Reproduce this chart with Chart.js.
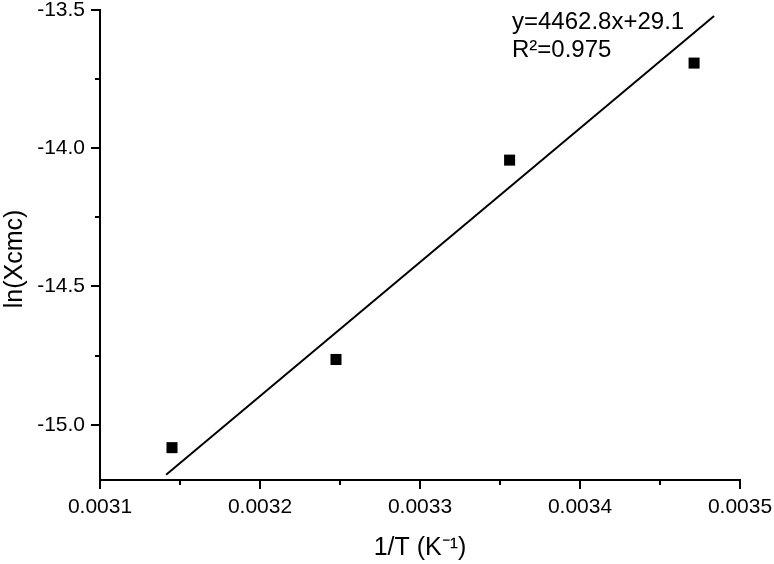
<!DOCTYPE html>
<html>
<head>
<meta charset="utf-8">
<script src="https://cdn.jsdelivr.net/npm/chart.js@4"></script>
<style>
  html, body { margin: 0; padding: 0; background: #fff; }
  #wrap { width: 774px; height: 564px; }
</style>
</head>
<body>
<div id="wrap"><canvas id="chart"></canvas></div>
<script>
// measured points: 1/T vs ln(Xcmc)
const invT = [0.003145, 0.0032475, 0.003356, 0.0034713];
const lnXcmc = [-15.083, -14.764, -14.043, -13.692];

// fitted line end points as drawn
const fitX = [0.0031413, 0.0034838];
const fitY = [-15.181, -13.522];

const eqText = "y=4462.8x+29.1";
const r2Text = "R\u00b2=0.975";

const FONT = "'Liberation Sans', Arial, sans-serif";

// draws major / minor tick marks and the fit equation
const extras = {
    id: "extras",
    afterDraw(chart) {
        const ctx = chart.ctx;
        const xs = chart.scales.x;
        const ys = chart.scales.y;
        ctx.save();
        ctx.strokeStyle = "#000";
        ctx.lineWidth = 2;
        ctx.beginPath();
        xs.ticks.forEach((t) => {
            const major = Math.round(t.value / 0.00005) % 2 === 0;
            const px = Math.round(xs.getPixelForValue(t.value));
            ctx.moveTo(px, ys.bottom);
            ctx.lineTo(px, ys.bottom + (major ? 9 : 5));
        });
        ys.ticks.forEach((t) => {
            const major = Math.round(t.value * 4) % 2 === 0;
            const py = Math.round(ys.getPixelForValue(t.value));
            ctx.moveTo(xs.left, py);
            ctx.lineTo(xs.left - (major ? 9 : 5), py);
        });
        ctx.stroke();

        ctx.fillStyle = "#000";
        ctx.font = "24px " + FONT;
        ctx.textBaseline = "middle";
        ctx.textAlign = "left";
        const tx = xs.getPixelForValue(0.0033575);
        ctx.fillText(eqText, tx, ys.getPixelForValue(-13.543));
        ctx.fillText(r2Text, tx, ys.getPixelForValue(-13.645));
        ctx.restore();
    },
};

document.addEventListener("DOMContentLoaded", function () {
    const ctx = document.getElementById("chart").getContext("2d");
    new Chart(ctx, {
        type: "scatter",
        data: {
            datasets: [
                {
                    label: "fit",
                    data: fitX.map((x, i) => ({ x: x, y: fitY[i] })),
                    showLine: true,
                    borderColor: "#000",
                    borderWidth: 2,
                    pointRadius: 0,
                    fill: false,
                },
                {
                    label: "data",
                    data: invT.map((x, i) => ({ x: x, y: lnXcmc[i] })),
                    pointStyle: "rect",
                    pointRadius: 7.8,
                    backgroundColor: "#000",
                    borderColor: "#000",
                    borderWidth: 0,
                },
            ],
        },
        options: {
            responsive: true,
            maintainAspectRatio: false,
            animation: false,
            layout: { padding: { top: 10, right: 34, left: 0, bottom: 0 } },
            plugins: {
                legend: { display: false },
                tooltip: { enabled: false },
            },
            scales: {
                x: {
                    type: "linear",
                    min: 0.0031,
                    max: 0.0035,
                    afterFit: (s) => {
                        s.height = 84;
                        s.paddingLeft = 0;
                        s.paddingRight = 0;
                    },
                    grid: { display: false, drawTicks: false },
                    border: { display: true, color: "#000", width: 2 },
                    ticks: {
                        stepSize: 0.00005,
                        includeBounds: false,
                        autoSkip: false,
                        maxRotation: 0,
                        padding: 15,
                        color: "#000",
                        font: { family: FONT, size: 21 },
                        callback: (v) =>
                            Math.round(v / 0.00005) % 2 === 0 ? v.toFixed(4) : "",
                    },
                    title: {
                        display: true,
                        text: "1/T (K\u207b\u00b9)",
                        color: "#000",
                        font: { family: FONT, size: 25 },
                        padding: { top: 0, bottom: 1 },
                    },
                },
                y: {
                    min: -15.2,
                    max: -13.5,
                    afterFit: (s) => {
                        s.width = 100;
                        s.paddingTop = 0;
                        s.paddingBottom = 0;
                    },
                    grid: { display: false, drawTicks: false },
                    border: { display: true, color: "#000", width: 2 },
                    ticks: {
                        stepSize: 0.25,
                        includeBounds: false,
                        autoSkip: false,
                        padding: 15,
                        color: "#000",
                        font: { family: FONT, size: 21 },
                        callback: (v) =>
                            Math.round(v * 4) % 2 === 0 ? v.toFixed(1) : "",
                    },
                    title: {
                        display: true,
                        text: "ln(Xcmc)    ",
                        color: "#000",
                        font: { family: FONT, size: 25 },
                        padding: { top: 0, bottom: 0 },
                    },
                },
            },
        },
        plugins: [extras],
    });
});
</script>
</body>
</html>
